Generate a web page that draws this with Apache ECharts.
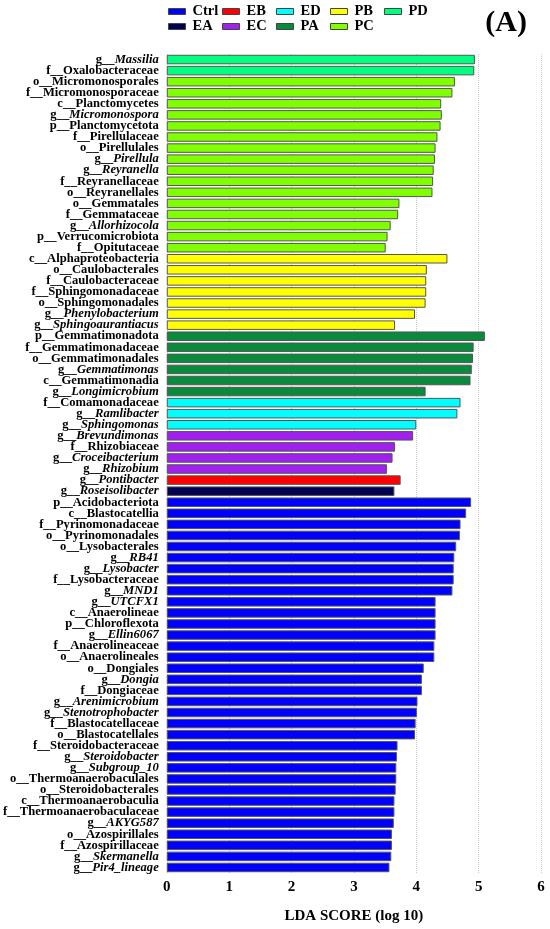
<!DOCTYPE html>
<html><head><meta charset="utf-8">
<script src="https://cdn.jsdelivr.net/npm/echarts@6/dist/echarts.min.js"></script>
<style>html,body{margin:0;padding:0;background:#fff}#c{width:550px;height:929px}</style>
</head><body><div id="c"></div>
<script>
var groupNames = ['Ctrl','EA','EB','EC','ED','PA','PB','PC','PD'];
var groupColors = ['#0000FF','#000055','#FF0000','#A020F0','#00FFFF','#0A8A3C','#FFFF00','#7FFF00','#00FF7F'];
var legendColumns = [['Ctrl','EA'],['EB','EC'],['ED','PA'],['PB','PC'],['PD']];
var categories = ['g__Massilia','f__Oxalobacteraceae','o__Micromonosporales','f__Micromonosporaceae','c__Planctomycetes','g__Micromonospora','p__Planctomycetota','f__Pirellulaceae','o__Pirellulales','g__Pirellula','g__Reyranella','f__Reyranellaceae','o__Reyranellales','o__Gemmatales','f__Gemmataceae','g__Allorhizocola','p__Verrucomicrobiota','f__Opitutaceae','c__Alphaproteobacteria','o__Caulobacterales','f__Caulobacteraceae','f__Sphingomonadaceae','o__Sphingomonadales','g__Phenylobacterium','g__Sphingoaurantiacus','p__Gemmatimonadota','f__Gemmatimonadaceae','o__Gemmatimonadales','g__Gemmatimonas','c__Gemmatimonadia','g__Longimicrobium','f__Comamonadaceae','g__Ramlibacter','g__Sphingomonas','g__Brevundimonas','f__Rhizobiaceae','g__Croceibacterium','g__Rhizobium','g__Pontibacter','g__Roseisolibacter','p__Acidobacteriota','c__Blastocatellia','f__Pyrinomonadaceae','o__Pyrinomonadales','o__Lysobacterales','g__RB41','g__Lysobacter','f__Lysobacteraceae','g__MND1','g__UTCFX1','c__Anaerolineae','p__Chloroflexota','g__Ellin6067','f__Anaerolineaceae','o__Anaerolineales','o__Dongiales','g__Dongia','f__Dongiaceae','g__Arenimicrobium','g__Stenotrophobacter','f__Blastocatellaceae','o__Blastocatellales','f__Steroidobacteraceae','g__Steroidobacter','g__Subgroup_10','o__Thermoanaerobaculales','o__Steroidobacterales','c__Thermoanaerobaculia','f__Thermoanaerobaculaceae','g__AKYG587','o__Azospirillales','f__Azospirillaceae','g__Skermanella','g__Pir4_lineage'];
var ldaValues = [4.94,4.93,4.62,4.58,4.40,4.41,4.39,4.34,4.31,4.30,4.28,4.27,4.26,3.73,3.71,3.59,3.54,3.51,4.50,4.17,4.16,4.16,4.15,3.98,3.66,5.10,4.92,4.91,4.89,4.87,4.15,4.71,4.66,4.00,3.95,3.66,3.62,3.53,3.75,3.65,4.88,4.80,4.71,4.70,4.64,4.61,4.60,4.60,4.58,4.31,4.31,4.31,4.31,4.29,4.29,4.12,4.09,4.09,4.02,4.01,3.99,3.98,3.70,3.69,3.68,3.68,3.67,3.65,3.65,3.64,3.61,3.61,3.60,3.57];
var groupCounts = [['PD',2],['PC',16],['PB',7],['PA',6],['ED',3],['EC',4],['EB',1],['EA',1],['Ctrl',34]];
var xTicks = [0,1,2,3,4,5,6];

var groups = [];
groupCounts.forEach(function(g){ for (var i=0;i<g[1];i++) groups.push(g[0]); });

var series = groupNames.map(function(name, gi){
  return {
    name: name, type: 'bar', stack: 'all',
    barCategoryGap: '14%',
    itemStyle: {color: groupColors[gi], borderColor: '#555', borderWidth: 1},
    data: ldaValues.map(function(v,i){ return groups[i]===name ? v : null; })
  };
});

var serif = '"Liberation Serif","Times New Roman",serif';
var chart = echarts.init(document.getElementById('c'));
var legends = legendColumns.map(function(col, k){
  return {
    data: col, orient: 'vertical', left: 168 + 54 * k, top: 4, padding: 0,
    itemWidth: 17, itemHeight: 6, itemGap: 0,
    textStyle: {fontFamily: serif, fontWeight: 'bold', fontSize: 14.5, lineHeight: 13, color: '#000', padding:[0,0,0,2]},
    itemStyle: {borderColor: '#444', borderWidth: 1},
    icon: 'rect', selectedMode: false
  };
});
chart.setOption({
  animation: false,
  legend: legends,
  title: {text: '(A)', right: 18, top: 3, textStyle: {fontFamily: serif, fontWeight: 'bold', fontSize: 30, color: '#000'}},
  grid: {left: 165, right: 9, top: 54, bottom: 51},
  xAxis: {
    type: 'value', min: 0, max: 6, interval: 1,
    name: 'LDA SCORE (log 10)', nameLocation: 'middle', nameGap: 36,
    nameTextStyle: {fontFamily: serif, fontWeight: 'bold', fontSize: 15, color: '#000'},
    axisLine: {show: false}, axisTick: {show: false},
    axisLabel: {fontFamily: serif, fontWeight: 'bold', fontSize: 15, color: '#000', margin: 7,
      formatter: function(v){ return xTicks.indexOf(v) >= 0 ? String(v) : ''; }},
    splitLine: {show: true, lineStyle: {color: '#c8c8c8', type: 'dotted', width: 1}}
  },
  yAxis: {
    type: 'category', data: categories, inverse: true,
    axisLine: {show: false}, axisTick: {show: false},
    axisLabel: {
      interval: 0, margin: 8,
      formatter: function(s){
        var p = s.slice(0,3), n = s.slice(3);
        return p.charAt(0)==='g' ? '{p|'+p+'}{i|'+n+'}' : '{p|'+p+n+'}';
      },
      rich: {
        p: {fontFamily: serif, fontWeight: 'bold', fontSize: 12.6, color: '#000'},
        i: {fontFamily: serif, fontWeight: 'bold', fontStyle: 'italic', fontSize: 12.6, color: '#000'}
      }
    }
  },
  series: series
});
</script></body></html>
